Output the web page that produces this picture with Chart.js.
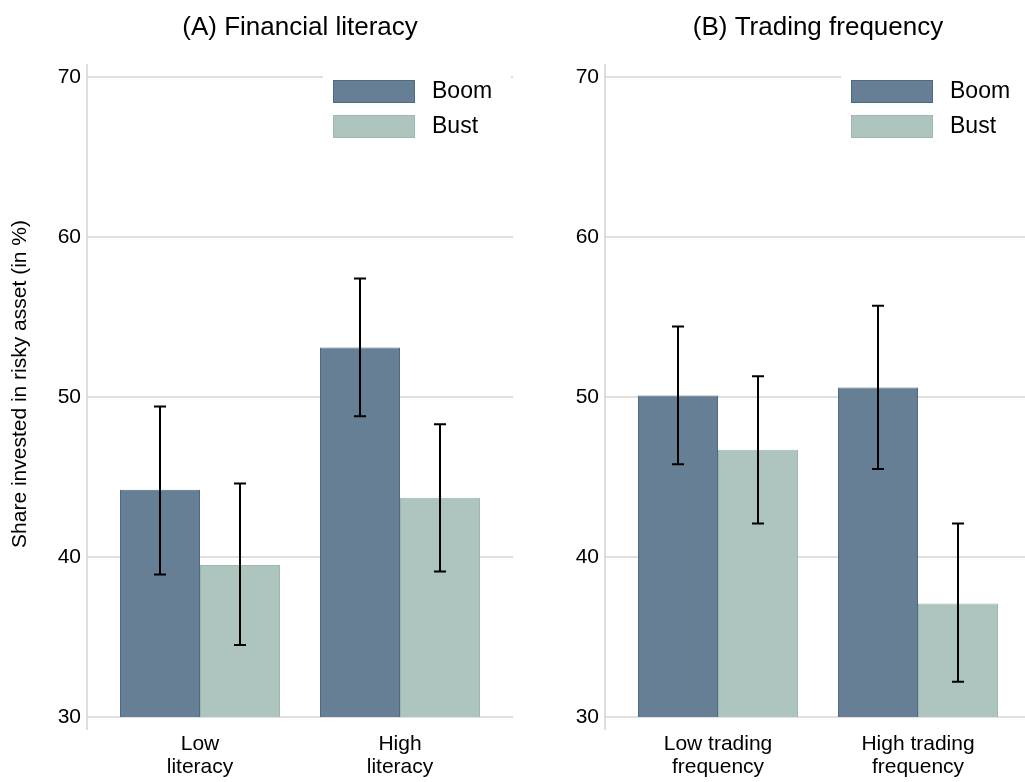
<!DOCTYPE html>
<html>
<head>
<meta charset="utf-8">
<script src="https://cdn.jsdelivr.net/npm/chart.js@4.4.1/dist/chart.umd.min.js"></script>
<style>
    body { margin: 0; background: #fff; }
    #wrap { position: relative; width: 1025px; height: 782px; }
    canvas { position: absolute; top: 0; }
</style>
</head>
<body>
<div id="wrap">
    <canvas id="chartA" width="518" height="782" style="left:0"></canvas>
    <canvas id="chartB" width="507" height="782" style="left:518px"></canvas>
</div>
<script>
// data
var seriesNames = ["Boom", "Bust"];
var yTicks = [30, 40, 50, 60, 70];

// panel A
var catsA = [["Low", "literacy"], ["High", "literacy"]];
var boomA = [44.2, 53.1];
var bustA = [39.5, 43.7];
var boomA_lo = [38.9, 48.8];
var boomA_hi = [49.4, 57.4];
var bustA_lo = [34.5, 39.1];
var bustA_hi = [44.6, 48.3];

// panel B
var catsB = [["Low trading", "frequency"], ["High trading", "frequency"]];
var boomB = [50.1, 50.6];
var bustB = [46.7, 37.1];
var boomB_lo = [45.8, 45.5];
var boomB_hi = [54.4, 55.7];
var bustB_lo = [42.1, 32.2];
var bustB_hi = [51.3, 42.1];

var FONT = "'Liberation Sans', Arial, sans-serif";
var boomFill = "#667f94", boomLine = "#4d6a83";
var bustFill = "#adc4bf", bustLine = "#9bb8b1";

//gridlines, axis line, error bars, title, legend
var decor = {
    id: "decor",
    beforeDatasetsDraw: function (chart) {
        var ctx = chart.ctx, a = chart.chartArea, y = chart.scales.y;
        ctx.save();
        ctx.strokeStyle = "#e0e0e0";
        ctx.lineWidth = 2;
        yTicks.forEach(function (t) {
            var py = Math.round(y.getPixelForValue(t));
            ctx.beginPath();
            ctx.moveTo(a.left - 13, py);
            ctx.lineTo(a.right + 13, py);
            ctx.stroke();
        });
        ctx.strokeStyle = "#dddddd";
        ctx.beginPath();
        ctx.moveTo(a.left - 13, a.top - 13);
        ctx.lineTo(a.left - 13, a.bottom + 13);
        ctx.stroke();
        ctx.restore();
    },
    afterDatasetsDraw: function (chart, args, opts) {
        var ctx = chart.ctx, y = chart.scales.y;
        ctx.save();
        ctx.strokeStyle = "#000";
        ctx.lineWidth = 2;
        opts.errors.forEach(function (err, i) {
            var meta = chart.getDatasetMeta(i);
            meta.data.forEach(function (bar, j) {
                var x = Math.round(bar.x);
                var y1 = y.getPixelForValue(err[0][j]);
                var y2 = y.getPixelForValue(err[1][j]);
                ctx.beginPath();
                ctx.moveTo(x, y1); ctx.lineTo(x, y2);
                ctx.moveTo(x - 6, y1); ctx.lineTo(x + 6, y1);
                ctx.moveTo(x - 6, y2); ctx.lineTo(x + 6, y2);
                ctx.stroke();
            });
        });
        ctx.restore();
    },
    afterDraw: function (chart, args, opts) {
        var ctx = chart.ctx, a = chart.chartArea;
        ctx.save();
        ctx.fillStyle = "#000";
        ctx.font = "26px " + FONT;
        ctx.textAlign = "center";
        ctx.textBaseline = "middle";
        ctx.fillText(opts.title, (a.left + a.right) / 2, 28);

        if (opts.yTitle) {
            ctx.save();
            ctx.translate(20, 384);
            ctx.rotate(-Math.PI / 2);
            ctx.font = "21px " + FONT;
            ctx.fillText(opts.yTitle, 0, 0);
            ctx.restore();
        }

        // legend
        ctx.fillStyle = "#fff";
        ctx.fillRect(a.left + 223, a.top - 6, 188, 74);
        chart.data.datasets.forEach(function (ds, i) {
            var top = a.top + 3 + i * 35;
            ctx.fillStyle = ds.backgroundColor;
            ctx.fillRect(a.left + 233, top, 82, 23);
            ctx.strokeStyle = ds.borderColor;
            ctx.lineWidth = 1;
            ctx.strokeRect(a.left + 233.5, top + 0.5, 81, 22);
            ctx.fillStyle = "#000";
            ctx.font = "23px " + FONT;
            ctx.textAlign = "left";
            ctx.fillText(ds.label, a.left + 332, top + 12);
        });
        ctx.restore();
    }
};

function makeChart(id, cats, boom, bust, errs, title, yTitle, rightPad) {
    var config = {
        type: "bar",
        data: {
            labels: cats,
            datasets: [{
                    label: seriesNames[0],
                    data: boom,
                    base: 30,
                    backgroundColor: boomFill,
                    borderColor: boomLine,
                    borderWidth: 1
                },
                {
                    label: seriesNames[1],
                    data: bust,
                    base: 30,
                    backgroundColor: bustFill,
                    borderColor: bustLine,
                    borderWidth: 1
                }
            ]
        },
        options: {
            responsive: false,
            animation: false,
            layout: {
                padding: { top: 77, right: rightPad, left: 0, bottom: 0 }
            },
            datasets: {
                bar: { categoryPercentage: 0.8, barPercentage: 1.0 }
            },
            plugins: {
                legend: { display: false },
                tooltip: { enabled: false },
                decor: { errors: errs, title: title, yTitle: yTitle }
            },
            scales: {
                x: {
                    grid: { display: false, drawTicks: false },
                    border: { display: false },
                    ticks: {
                        color: "#000",
                        padding: 16,
                        font: { size: 21, family: FONT, lineHeight: 1.1 }
                    },
                    afterFit: function (s) { s.height = 65; }
                },
                y: {
                    min: 30,
                    max: 70,
                    grid: { display: false, drawTicks: false },
                    border: { display: false },
                    ticks: {
                        stepSize: 10,
                        color: "#000",
                        padding: 19,
                        font: { size: 21, family: FONT }
                    },
                    afterFit: function (s) { s.width = 100; }
                }
            }
        },
        plugins: [decor]
    };
    return new Chart(document.getElementById(id), config);
}

var chartA = makeChart("chartA", catsA, boomA, bustA,
    [[boomA_lo, boomA_hi], [bustA_lo, bustA_hi]],
    "(A) Financial literacy", "Share invested in risky asset (in %)", 18);

var chartB = makeChart("chartB", catsB, boomB, bustB,
    [[boomB_lo, boomB_hi], [bustB_lo, bustB_hi]],
    "(B) Trading frequency", null, 7);
</script>
</body>
</html>
